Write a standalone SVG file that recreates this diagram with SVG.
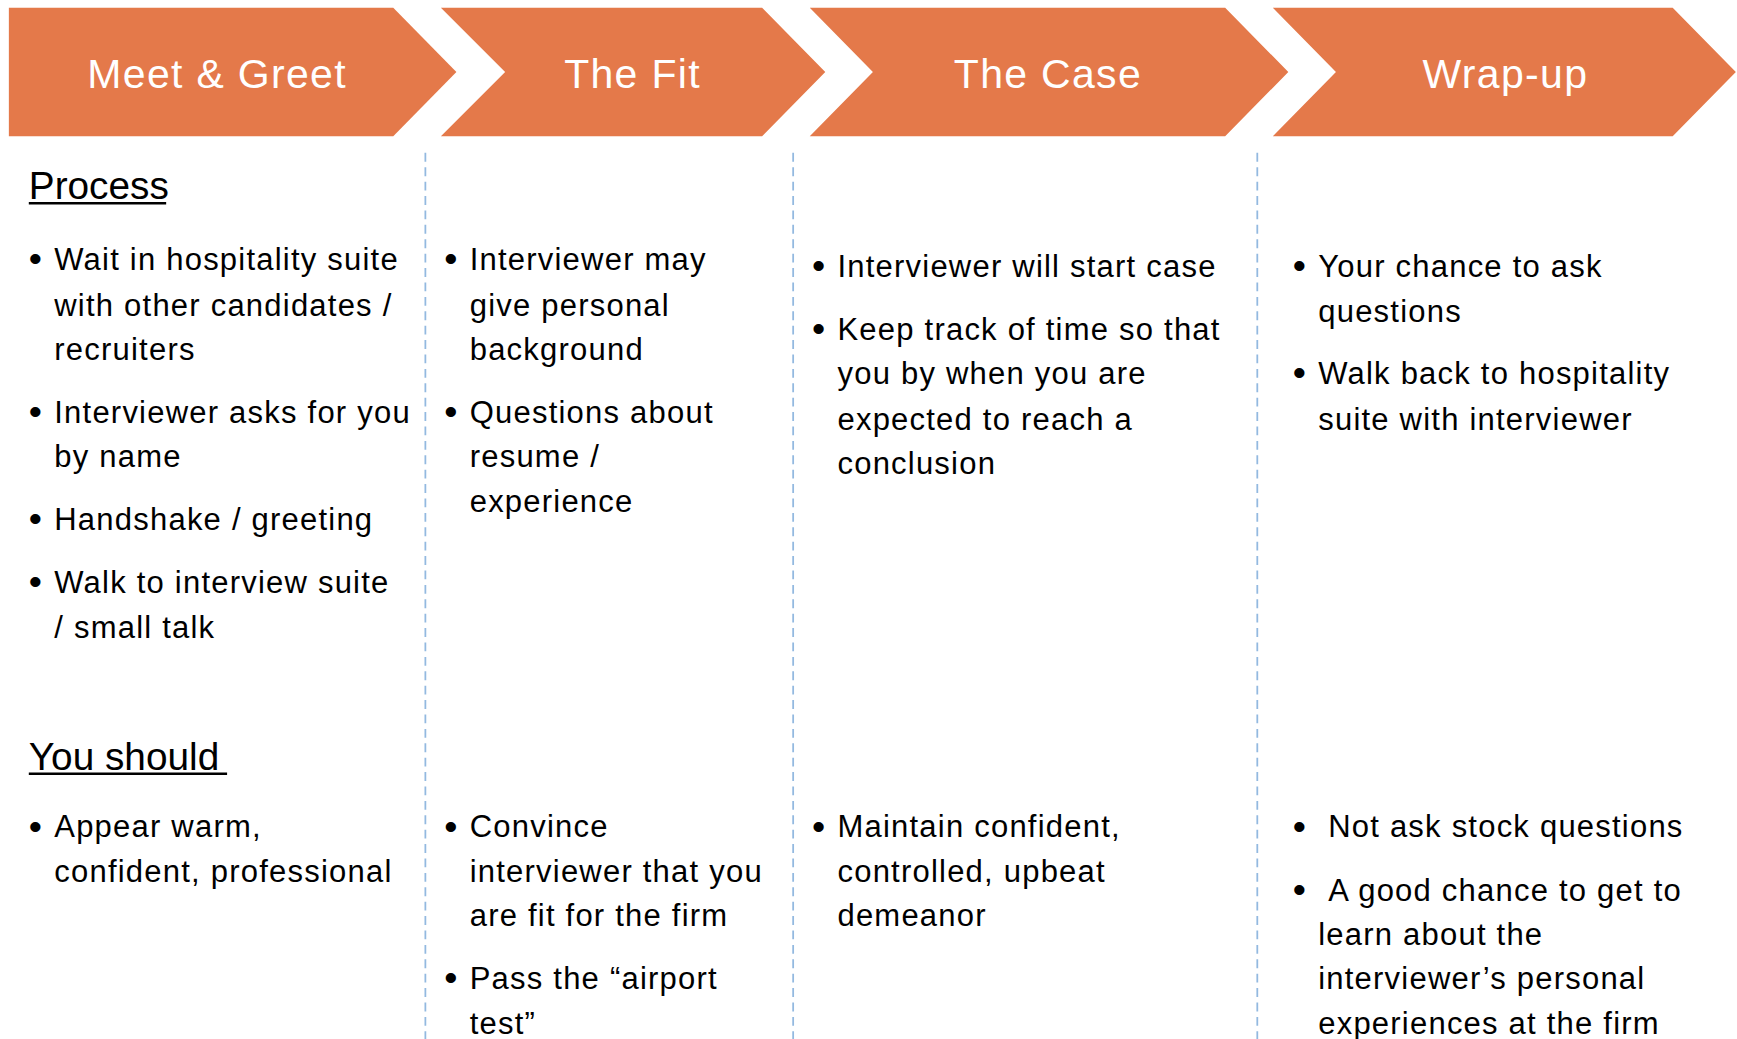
<svg xmlns="http://www.w3.org/2000/svg" width="1737" height="1039" viewBox="0 0 1737 1039">
<style>
.chev{fill:#E4794A}
.ht{font-family:"Liberation Sans",Arial,sans-serif;font-size:37px;fill:#fff;text-anchor:middle;letter-spacing:1.2px}
.h2{font-family:"Liberation Sans",Arial,sans-serif;font-size:35px;fill:#000}
.b{font-family:"Liberation Sans",Arial,sans-serif;font-size:28px;fill:#000;letter-spacing:1.1px}
.bu{font-family:"Liberation Sans",Arial,sans-serif;font-size:34px;fill:#000}
.sep{stroke:#93B9E0;stroke-width:1.6;stroke-dasharray:8 5;fill:none}
.ul{stroke:#000;stroke-width:2.2}
</style>
<rect width="1737" height="1039" fill="#fff"/>
<g transform="scale(1.10775)">
<g id="stage-meet-greet">
<polygon class="chev" points="8,7 355,7 412,65 355,123 8,123"/>
<text class="ht" x="196" y="79">Meet &amp; Greet</text>
</g>
<g id="stage-the-fit">
<polygon class="chev" points="398,7 688,7 745,65 688,123 398,123 456,65"/>
<text class="ht" x="571" y="79">The Fit</text>
</g>
<g id="stage-the-case">
<polygon class="chev" points="731,7 1106,7 1163,65 1106,123 731,123 788,65"/>
<text class="ht" x="946" y="79">The Case</text>
</g>
<g id="stage-wrap-up">
<polygon class="chev" points="1149,7 1510,7 1567,65 1510,123 1149,123 1206,65"/>
<text class="ht" x="1359" y="79">Wrap-up</text>
</g>
<g id="separators">
<line class="sep" x1="384" y1="138" x2="384" y2="938"/>
<line class="sep" x1="716" y1="138" x2="716" y2="938"/>
<line class="sep" x1="1135" y1="138" x2="1135" y2="938"/>
</g>
<g id="headings">
<text class="h2" x="26" y="180">Process</text>
<line class="ul" x1="26" y1="183.5" x2="150" y2="183.5"/>
<text class="h2" x="26" y="695">You should</text>
<line class="ul" x1="26" y1="698.5" x2="205" y2="698.5"/>
</g>
<g id="col1-process">
<text class="bu" x="26" y="245">•</text>
<text class="b" x="49" y="244">Wait in hospitality suite</text>
<text class="b" x="49" y="285">with other candidates /</text>
<text class="b" x="49" y="325">recruiters</text>
<text class="bu" x="26" y="383">•</text>
<text class="b" x="49" y="382">Interviewer asks for you</text>
<text class="b" x="49" y="422">by name</text>
<text class="bu" x="26" y="479">•</text>
<text class="b" x="49" y="478">Handshake / greeting</text>
<text class="bu" x="26" y="536">•</text>
<text class="b" x="49" y="535">Walk to interview suite</text>
<text class="b" x="49" y="576">/ small talk</text>
</g>
<g id="col2-process">
<text class="bu" x="401" y="245">•</text>
<text class="b" x="424" y="244">Interviewer may</text>
<text class="b" x="424" y="285">give personal</text>
<text class="b" x="424" y="325">background</text>
<text class="bu" x="401" y="383">•</text>
<text class="b" x="424" y="382">Questions about</text>
<text class="b" x="424" y="422">resume /</text>
<text class="b" x="424" y="462">experience</text>
</g>
<g id="col3-process">
<text class="bu" x="733" y="251">•</text>
<text class="b" x="756" y="250">Interviewer will start case</text>
<text class="bu" x="733" y="308">•</text>
<text class="b" x="756" y="307">Keep track of time so that</text>
<text class="b" x="756" y="347">you by when you are</text>
<text class="b" x="756" y="388">expected to reach a</text>
<text class="b" x="756" y="428">conclusion</text>
</g>
<g id="col4-process">
<text class="bu" x="1167" y="251">•</text>
<text class="b" x="1190" y="250">Your chance to ask</text>
<text class="b" x="1190" y="291">questions</text>
<text class="bu" x="1167" y="348">•</text>
<text class="b" x="1190" y="347">Walk back to hospitality</text>
<text class="b" x="1190" y="388">suite with interviewer</text>
</g>
<g id="col1-should">
<text class="bu" x="26" y="757">•</text>
<text class="b" x="49" y="756">Appear warm,</text>
<text class="b" x="49" y="796">confident, professional</text>
</g>
<g id="col2-should">
<text class="bu" x="401" y="757">•</text>
<text class="b" x="424" y="756">Convince</text>
<text class="b" x="424" y="796">interviewer that you</text>
<text class="b" x="424" y="836">are fit for the firm</text>
<text class="bu" x="401" y="894">•</text>
<text class="b" x="424" y="893">Pass the “airport</text>
<text class="b" x="424" y="933">test”</text>
</g>
<g id="col3-should">
<text class="bu" x="733" y="757">•</text>
<text class="b" x="756" y="756">Maintain confident,</text>
<text class="b" x="756" y="796">controlled, upbeat</text>
<text class="b" x="756" y="836">demeanor</text>
</g>
<g id="col4-should">
<text class="bu" x="1167" y="757">•</text>
<text class="b" x="1199" y="756">Not ask stock questions</text>
<text class="bu" x="1167" y="814">•</text>
<text class="b" x="1199" y="813">A good chance to get to</text>
<text class="b" x="1190" y="853">learn about the</text>
<text class="b" x="1190" y="893">interviewer’s personal</text>
<text class="b" x="1190" y="933">experiences at the firm</text>
</g>
</g>
</svg>
